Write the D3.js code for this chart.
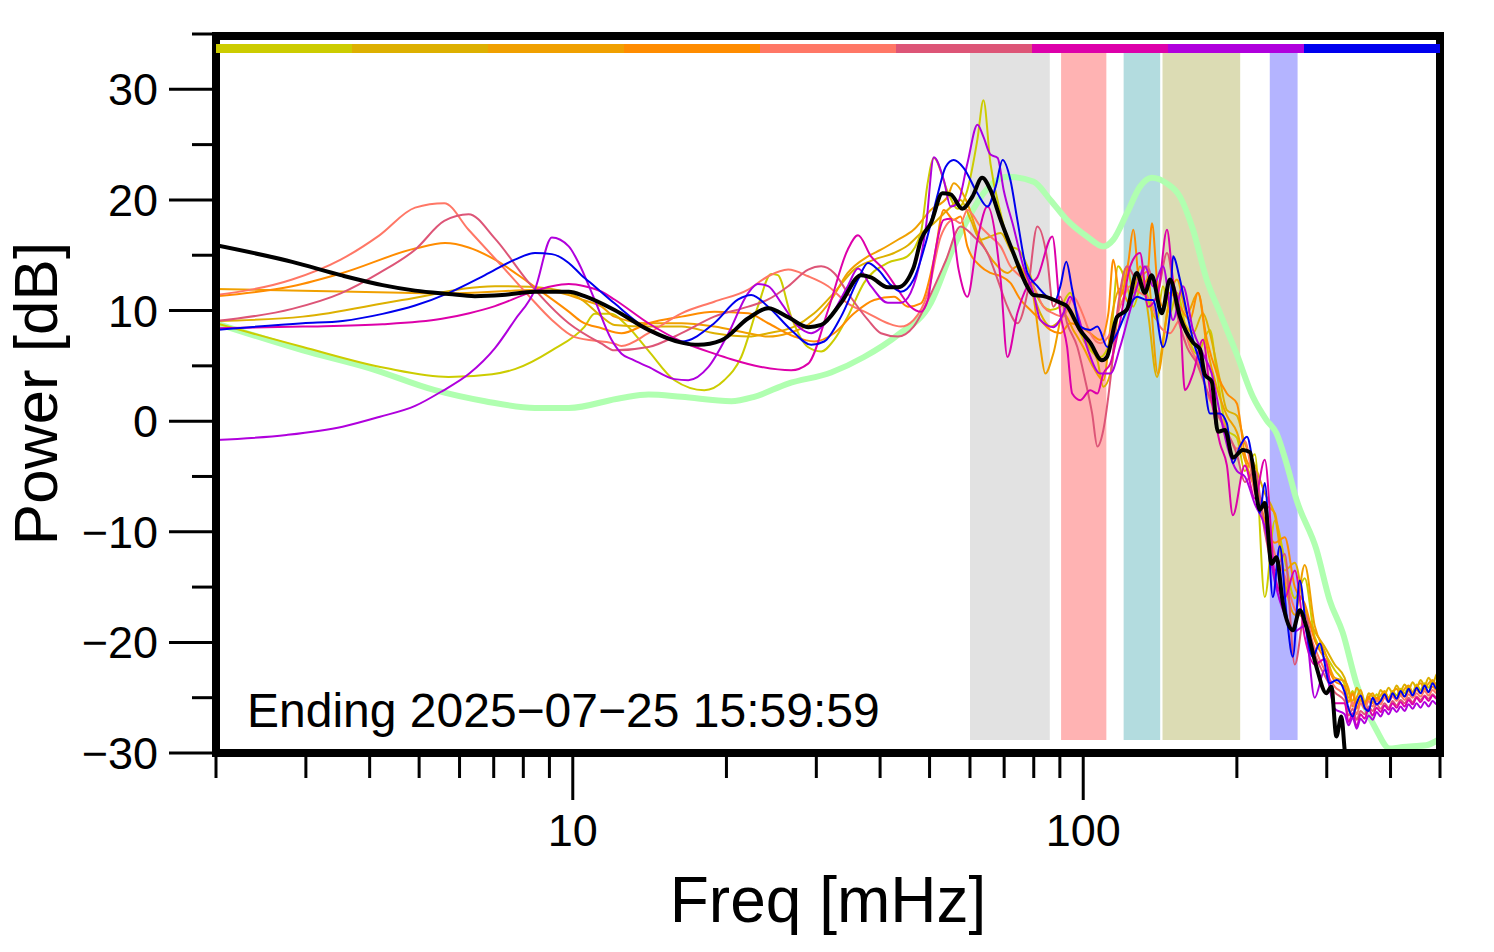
<!DOCTYPE html>
<html><head><meta charset="utf-8">
<script src="https://cdn.jsdelivr.net/npm/d3@7"></script>
<style>body{margin:0;background:#fff}svg{display:block}</style>
</head><body>
<svg id="chart" width="1494" height="952"></svg>
<script>
// ---------- data (freq in mHz, power in dB) ----------
const seriesNames = ["s1","s2","s3","s4","s5","s6","s7","s8","s9"];
const seriesColors = ["#CCCC00","#DDB000","#F0A000","#FF8C00","#FF7766","#DD5577","#DD00AA","#B000DD","#0000EE"];

const tailFreq = [325.2,331.1,337.2,343.3,349.5,355.9,362.4,369.0,375.7,382.5,389.5,396.6,403.8,411.1,418.6,426.2,434.0,441.9,449.9,458.1,466.4,474.9,483.6,492.4,500];

const headS1 = [[2.0,8.85],[2.96,6.7],[4.30,4.8],[5.71,4.0],[6.95,4.25],[7.70,4.7],[9.10,6.4],[10.55,8.55],[11.03,9.7],[11.91,9.7],[12.63,8.85],[14.05,6.4],[15.82,3.7],[18.1,2.8],[19.8,3.7],[21.38,5.8],[23.04,10.35],[24.47,13.3],[25.22,13.2],[26.78,9.45],[28.88,6.7],[30.66,6.3],[32.5,7.35],[34.56,9.45],[37.2,12.5],[41.38,14.3],[45.22,14.9],[48.1,17.1],[49.56,21.5],[50.98,23.8],[54.26,20.75],[56.73,19.2],[59.3,20.9],[62.06,25.5],[63.76,29.0],[65.8,23.3],[68.9,18.8],[72.0,15.8],[74.63,15.5],[77.74,14.0],[81.29,11.25],[86.2,10.05],[90.2,10.35],[94.3,11.6],[98.7,7.95],[103.2,6.45],[108,5.8],[113,7.35],[117,14.0],[121.9,12.2],[125.3,10.35],[131,12.8],[135.2,10.35],[139.5,9.15],[143.3,12.2],[147.9,9.75],[152.6,11.6],[159.7,7.95],[167,6.1],[177.1,8.25],[182.8,4.3],[191.2,-0.8],[200,-1.5],[207.3,-4.5],[216.9,-3.0],[226.8,-15.9],[237.3,-9.0],[248.2,-12.5],[259.7,-16.0],[271.6,-14.2],[284.1,-19.5],[297.2,-21.0],[310.9,-22.5]];
const tailS1 = [-23.8,-25.0,-24.4,-25.5,-24.9,-25.8,-25.1,-25.4,-24.7,-25.2,-24.5,-25.0,-24.4,-24.8,-24.2,-24.6,-24.0,-24.5,-23.8,-24.3,-23.7,-24.1,-23.5,-23.8,-23.2];

const headS2 = [[2.0,9.05],[2.96,9.45],[4.63,10.95],[7.04,12.2],[8.21,12.15],[9.82,11.6],[10.4,11.0],[11.39,9.45],[12.07,8.7],[14.07,8.55],[16.33,8.55],[18.93,7.95],[22.07,7.65],[24.14,7.95],[27.15,8.55],[29.72,9.75],[32.5,11.6],[35.58,13.7],[38.93,14.6],[42.6,15.2],[45.37,15.9],[48.1,17.0],[50.98,17.9],[54.26,19.1],[57.5,20.0],[60.2,18.2],[62.9,16.4],[65.8,16.7],[68.9,17.0],[72,15.5],[75.3,14.0],[78.8,12.2],[82.4,9.75],[86.2,8.55],[90.2,9.15],[93.0,10.05],[95.6,9.15],[101.7,7.05],[106.6,5.5],[109.5,3.1],[113,4.3],[117,9.75],[121.9,14.0],[125.3,11.6],[129.2,14.0],[134,9.75],[139.5,4.0],[143.3,7.35],[149.9,11.6],[156.8,9.15],[164.1,7.95],[171.6,9.75],[177.1,7.95],[185.3,3.7],[191.2,1.0],[200,0.5],[207.3,-2.0],[216.9,-4.0],[226.8,-6.5],[237.3,-8.5],[248.2,-13.5],[259.7,-12.8],[271.6,-17.0],[284.1,-19.0],[297.2,-20.4],[310.9,-22.0]];
const tailS2 = [-23.2,-24.5,-25.3,-24.1,-24.8,-25.6,-24.6,-24.9,-25.2,-24.3,-24.7,-24.1,-24.6,-23.9,-24.4,-23.8,-24.3,-23.6,-24.1,-23.4,-23.9,-23.2,-23.7,-22.9,-22.7];

const headS3 = [[2.0,11.95],[2.96,11.8],[4.63,11.6],[5.72,11.55],[8.43,11.85],[9.82,11.4],[10.4,11.0],[11.39,10.35],[12.07,9.45],[14.07,8.85],[16.33,8.85],[18.93,8.55],[22.07,7.95],[24.14,7.65],[26.42,7.95],[29.72,9.15],[32.07,10.95],[34.56,13.4],[37.87,14.9],[40.15,15.5],[43.34,16.4],[46.53,17.3],[50.3,19.1],[54.26,20.3],[55.75,21.5],[59.3,19.7],[62.06,17.0],[64.92,15.2],[67.98,14.0],[71.03,13.4],[74.29,14.0],[77.74,12.8],[79.87,11.25],[82.4,6.7],[84.27,4.3],[87.37,6.1],[91.43,9.75],[95.6,8.25],[100,6.7],[104.6,4.9],[109.5,3.7],[114,9.75],[118.1,12.0],[123.6,10.5],[129.2,12.8],[133.4,13.5],[140.1,4.3],[145.9,9.75],[152.6,12.8],[159.7,9.75],[167.8,11.6],[174.7,6.7],[182.8,3.0],[191.2,0.5],[200,-1.0],[207.3,-3.5],[216.9,-6.0],[226.8,-7.5],[237.3,-8.3],[248.2,-14.5],[259.7,-17.5],[271.6,-13.0],[284.1,-18.5],[297.2,-20.8],[310.9,-23.2]];
const tailS3 = [-23.5,-24.2,-25.8,-25.0,-24.3,-25.4,-25.0,-24.6,-25.3,-24.8,-24.4,-25.1,-24.5,-24.2,-24.8,-24.2,-23.9,-24.5,-24.0,-23.7,-24.2,-23.7,-23.4,-23.9,-23.3];

const headS4 = [[2.0,11.3],[2.82,12.2],[3.54,13.4],[4.91,15.6],[5.62,16.1],[6.25,15.7],[7.04,14.6],[8.21,12.5],[9.82,9.9],[10.4,9.0],[11.39,8.4],[12.46,7.95],[14.07,8.85],[16.33,9.45],[18.93,9.9],[22.07,9.75],[24.14,8.85],[27.15,7.65],[29.72,7.2],[32.5,7.95],[35.58,9.75],[38.93,10.95],[42.6,11.25],[45.37,10.35],[48.1,10.65],[50.98,14.6],[53.31,19.1],[55.75,18.2],[57.5,18.5],[59.3,15.8],[62.9,14.0],[65.8,13.4],[68.9,13.1],[72,12.5],[75.3,11.0],[78.8,10.05],[82.4,9.15],[86.2,8.25],[90.2,7.95],[94.3,8.85],[98.7,8.55],[103.2,7.95],[108,7.35],[112,9.75],[114.5,14.6],[118.1,11.25],[122.5,14.3],[125.3,17.3],[129.2,12.2],[133.4,12.8],[136.4,17.9],[139.5,12.8],[143.3,10.35],[147.9,11.6],[154.7,10.35],[161.9,9.15],[167.8,11.6],[174.7,7.35],[182.8,4.3],[191.2,2.5],[200,1.6],[207.3,-3.0],[216.9,-5.0],[226.8,-9.0],[237.3,-11.0],[248.2,-10.5],[259.7,-15.0],[271.6,-16.5],[284.1,-19.8],[297.2,-21.5],[310.9,-23.5]];
const tailS4 = [-24.0,-25.4,-24.6,-26.0,-25.2,-25.6,-24.9,-25.5,-25.0,-25.3,-24.8,-25.2,-24.7,-25.1,-24.6,-24.9,-24.4,-24.8,-24.3,-24.6,-24.2,-24.5,-24.0,-24.3,-23.9];

const headS5 = [[2.0,11.4],[2.82,12.8],[3.51,14.6],[4.18,16.8],[4.91,19.3],[5.6,19.7],[6.25,17.3],[7.27,14.0],[8.21,11.3],[9.10,9.15],[10.09,7.6],[12.07,7.0],[12.46,6.8],[14.07,7.95],[16.33,9.75],[18.93,10.8],[22.07,11.9],[24.14,13.1],[26.42,13.7],[28.92,13.1],[31.64,12.2],[34.56,10.65],[37.87,9.75],[41.43,8.85],[43.93,8.55],[46.53,9.15],[49.63,11.6],[52.6,16.7],[55.75,18.2],[57.5,17.9],[59.3,19.1],[62.9,17.6],[65.8,16.7],[68.9,15.8],[72,14.0],[75.3,13.1],[79.87,12.2],[83.52,10.35],[87.37,9.75],[91.43,9.45],[95.6,11.25],[99.6,9.75],[103.2,7.95],[108,7.05],[113,7.95],[118.1,10.35],[123.6,12.2],[129.2,11.6],[135.2,10.95],[141.4,8.55],[147.9,7.95],[154.7,9.15],[161.9,6.7],[169.3,4.9],[177.1,1.9],[185.3,0.5],[193.8,-1.5],[200,-2.5],[207.3,-1.8],[216.9,-6.5],[226.8,-8.0],[237.3,-12.0],[248.2,-14.0],[259.7,-17.0],[271.6,-18.0],[284.1,-20.5],[297.2,-22.5],[310.9,-24.0]];
const tailS5 = [-24.8,-26.2,-25.4,-26.5,-25.5,-26.0,-25.3,-25.8,-25.2,-25.6,-25.0,-25.4,-24.9,-25.3,-24.8,-25.2,-24.7,-25.0,-24.6,-24.9,-24.4,-24.8,-24.3,-24.6,-24.3];

const headS6 = [[2.0,9.05],[2.82,10.15],[3.51,11.55],[4.18,13.4],[4.91,15.5],[5.6,18.1],[6.25,18.7],[7.04,16.5],[8.21,12.5],[9.82,8.85],[11.39,7.0],[12.07,6.4],[14.07,6.7],[16.33,7.95],[18.93,9.45],[22.07,10.35],[24.14,11.0],[26.42,12.2],[28.92,13.7],[30.66,14.0],[32.5,13.4],[34.56,11.6],[37.87,9.15],[40.15,7.95],[43.34,7.65],[46.53,8.55],[50.3,11.5],[53.78,14.5],[57.5,17.6],[61.02,16.7],[64.92,15.2],[67.98,12.8],[71.03,10.35],[74.29,8.85],[77.74,11.6],[81.29,17.6],[85.04,14.6],[87.37,10.35],[90.2,11.25],[93.0,8.85],[97.38,6.7],[100.9,3.7],[104.1,0.7],[106.6,-2.3],[109.5,-0.8],[113,3.7],[116.5,9.75],[121.9,14.0],[127.5,12.8],[133.4,14.0],[139.5,11.6],[145.9,15.2],[152.6,9.75],[159.7,6.7],[167,5.2],[174.7,2.8],[182.8,0.7],[191.2,-1.0],[200,-3.0],[207.3,-5.5],[216.9,-4.5],[226.8,-10.0],[237.3,-13.5],[248.2,-12.0],[259.7,-22.0],[271.6,-17.5],[284.1,-21.0],[297.2,-23.0],[310.9,-24.5]];
const tailS6 = [-25.3,-26.6,-26.0,-27.0,-26.2,-26.5,-25.8,-26.2,-25.6,-26.0,-25.5,-25.9,-25.3,-25.7,-25.2,-25.5,-25.0,-25.4,-24.9,-25.2,-24.8,-25.1,-24.7,-25.0,-24.7];

const headS7 = [[2.0,8.4],[2.96,8.55],[4.24,8.76],[5.54,9.25],[6.27,9.76],[7.04,10.4],[8.22,11.6],[9.10,12.2],[9.82,12.4],[10.55,12.2],[11.39,11.7],[12.07,11.0],[14.07,8.85],[16.33,7.2],[18.93,6.1],[20.44,5.6],[23.39,4.9],[26.78,4.6],[28.92,5.2],[31.64,10.05],[34.56,15.5],[36.21,16.8],[38.39,14.9],[40.7,13.7],[43.34,11.9],[45.9,10.35],[48.1,9.9],[49.63,11.0],[50.98,14.6],[53.31,18.2],[55.0,18.3],[57.0,13.7],[59.3,11.25],[62.06,16.4],[64.92,19.4],[68.9,12.8],[71.03,5.8],[74.29,9.75],[77.74,12.2],[81.29,13.0],[87.0,16.7],[90.2,9.75],[93.0,6.7],[95.15,2.5],[98.7,1.9],[103.2,2.8],[106.6,2.5],[109.5,4.3],[113,5.2],[118.1,9.0],[123.6,14.0],[129.2,15.2],[134,10.35],[140.1,11.6],[145.9,17.3],[149.9,12.8],[154.7,9.75],[158.2,2.8],[164.1,4.3],[171.6,7.35],[177.1,2.8],[185.3,-2.0],[191.2,-4.0],[196.4,-8.5],[207.3,-4.0],[216.9,-7.0],[226.8,-3.5],[237.3,-14.0],[248.2,-16.0],[259.7,-13.5],[271.6,-19.5],[284.1,-22.0],[297.2,-21.5],[310.9,-25.5]];
const tailS7 = [-25.5,-27.2,-26.4,-27.6,-26.5,-26.9,-26.0,-26.6,-25.9,-26.3,-25.7,-26.1,-25.5,-25.9,-25.4,-25.8,-25.2,-25.6,-25.0,-25.4,-24.9,-25.3,-24.8,-25.1,-24.8];

const headS8 = [[2.0,-1.7],[2.75,-1.25],[3.54,-0.5],[4.19,0.4],[4.91,1.38],[5.54,2.7],[6.27,4.3],[7.04,6.6],[7.70,9.15],[8.43,11.9],[9.10,16.6],[9.82,15.8],[10.27,14.3],[11.03,11.0],[11.91,7.35],[12.46,6.1],[13.04,5.6],[14.07,4.9],[15.82,3.8],[16.84,3.7],[18.44,4.9],[20.18,7.95],[22.07,11.6],[23.04,12.4],[24.14,12.2],[25.6,10.7],[27.65,8.55],[29.31,7.95],[31.64,9.15],[34.56,12.2],[36.21,13.8],[38.39,12.2],[41.43,10.7],[43.93,10.7],[45.9,11.6],[49.2,17.6],[50.98,23.85],[53.31,21.8],[55.0,19.4],[56.73,19.7],[59.3,23.3],[62.06,26.8],[63.76,25.7],[65.8,24.1],[67.98,23.8],[69.84,20.9],[72.98,17.6],[76.32,14.0],[79.87,11.6],[82.4,9.15],[87.37,8.5],[91.43,9.75],[94.3,11.25],[97.38,9.75],[101.7,6.7],[108,4.3],[113,4.3],[118.1,6.7],[123.6,10.05],[127.5,12.2],[132.1,14.0],[137.0,12.2],[143.3,14.0],[149.9,9.15],[156.8,12.2],[164.1,8.25],[171.6,6.1],[178.5,4.3],[185.3,0.7],[192.1,-2.5],[200,-4.5],[207.3,-5.0],[216.9,-7.5],[226.8,-9.5],[237.3,-14.5],[248.2,-17.5],[259.7,-19.0],[271.6,-18.5],[284.1,-25.0],[297.2,-22.5],[310.9,-26.0]];
const tailS8 = [-26.5,-27.5,-26.8,-27.8,-26.9,-27.3,-26.6,-27.0,-26.3,-26.7,-26.1,-26.5,-25.9,-26.3,-25.8,-26.2,-25.6,-26.0,-25.5,-25.9,-25.4,-25.8,-25.3,-25.6,-25.3];

const headS9 = [[2.0,8.25],[2.96,8.85],[3.54,9.06],[4.24,9.7],[4.91,10.45],[5.72,11.6],[6.73,13.2],[7.70,14.6],[8.43,15.2],[9.10,15.1],[9.82,14.3],[10.4,13.2],[11.03,12.2],[12.07,10.65],[14.07,8.25],[16.33,7.2],[18.93,8.85],[21.09,11.0],[22.37,11.4],[24.14,10.35],[26.78,8.25],[29.31,6.9],[31.08,7.2],[33.54,9.45],[36.21,12.8],[37.87,14.3],[39.61,13.7],[42.0,12.3],[43.93,11.7],[46.53,12.8],[49.2,16.2],[52.0,20.7],[53.78,23.0],[55.75,23.6],[58.28,22.9],[62.06,20.6],[64.92,19.4],[67.37,21.2],[69.52,23.6],[72,21.8],[74.29,18.2],[77.74,13.4],[81.29,12.2],[85.04,11.25],[88.16,10.95],[90.2,12.2],[92.63,14.4],[95.15,11.9],[98.7,8.55],[103.2,8.25],[106.6,8.55],[111.5,6.7],[116.5,7.95],[121.9,10.05],[127.5,11.25],[133.4,10.95],[137.0,10.95],[143.3,6.7],[147.9,9.75],[149.9,14.9],[154.7,12.8],[159.7,9.75],[164.1,7.35],[171.6,4.3],[177.1,0.7],[185.3,0.7],[191.2,-0.2],[196.4,-3.8],[202.7,-2.3],[209.3,-1.4],[215,-3.8],[221.8,-8.3],[226.8,-5.6],[235.2,-15.9],[242.7,-11.3],[250.5,-17.7],[257.4,-21.3],[265.6,-14.4],[274.1,-19.2],[281.6,-21.3],[290.6,-20.1],[304,-23.7],[313.7,-23.4]];
const tailS9 = [-24.5,-26.0,-26.7,-25.5,-24.8,-25.9,-26.2,-25.0,-25.6,-25.3,-24.7,-25.4,-24.6,-25.1,-24.4,-24.9,-24.2,-24.8,-24.1,-24.6,-23.9,-24.5,-23.7,-24.2,-23.6];

const meanSeries = [[2.0,15.9],[2.82,14.4],[3.51,13.2],[4.24,12.3],[4.91,11.8],[5.72,11.5],[6.43,11.3],[7.27,11.4],[8.43,11.7],[9.82,11.7],[10.55,11.3],[12.07,10.05],[14.07,8.25],[16.33,7.1],[17.62,6.9],[19.54,7.3],[22.07,9.3],[24.14,10.2],[26.42,9.4],[28.92,8.5],[30.66,8.7],[33.54,10.7],[36.70,13.2],[38.39,13.0],[41.43,12.1],[43.34,12.1],[46.53,13.9],[48.1,16.4],[50.3,17.9],[53.0,20.6],[55.0,20.5],[57.94,19.2],[60.66,20.3],[63.38,22.0],[65.8,20.9],[68.9,18.2],[72.98,15.2],[77.64,12.2],[79.87,11.4],[83.52,11.3],[90.2,10.7],[92.9,10.4],[98.7,8.2],[103.2,7.1],[108.8,5.5],[111.3,5.8],[116.4,9.4],[121.8,10.1],[127.3,13.4],[132.1,11.6],[136.2,13.2],[142.5,9.75],[147.9,12.8],[154.7,9.45],[164.1,7.1],[169.3,6.5],[173.1,4.2],[178.5,3.6],[183.6,-0.95],[189.5,-0.8],[196.4,-3.3],[205.5,-2.6],[212.1,-2.8],[221.8,-8.0],[226.8,-7.4],[233.8,-12.9],[239.1,-12.3],[246.0,-16.4],[257.4,-18.9],[265.6,-17.1],[273.7,-18.6],[286.3,-22.2],[299.5,-24.6],[306.3,-24.0],[313.3,-28.5],[320.4,-26.7],[325.2,-29.7],[332,-34]];

const referenceSeries = [[2.0,8.85],[2.96,6.4],[3.99,4.8],[5.37,2.8],[6.73,1.8],[8.43,1.2],[9.82,1.2],[12.46,2.1],[14.07,2.4],[16.33,2.2],[20.44,1.8],[22.67,2.2],[26.42,3.4],[32.07,4.4],[37.2,5.8],[43.34,7.8],[50.3,10.7],[55.75,15.75],[59.31,18.2],[63.76,20.6],[70.94,22.1],[79.87,21.65],[86.2,20.0],[92.9,18.2],[101.7,16.7],[109.5,15.8],[114.5,16.4],[121.8,18.8],[129.2,21.2],[136.2,22.0],[145.7,21.5],[154.7,20.3],[164.1,17.3],[174.5,12.8],[185.3,9.8],[199.7,6.1],[215,2.2],[228.6,0.1],[239.1,-1.1],[250.1,-3.8],[261.7,-7.1],[286.3,-11.6],[304,-16.2],[322.3,-19.1],[342.9,-23.7],[375.1,-27.9],[398.3,-29.6],[416.6,-29.5],[435.8,-29.4],[469.9,-29.3],[500,-28.7]];

const bandRanges = [[60,86],[90.5,111],[120,141.5],[143,203],[232,263]];
const bandColors = ["#E2E2E2","#FFB3B3","#B3DCDF","#DCDCB4","#B4B4FF"];

const yTickValues = [-30,-25,-20,-15,-10,-5,0,5,10,15,20,25,30,35];
const yTickLabels = {"-30":"\u221230","-20":"\u221220","-10":"\u221210","0":"0","10":"10","20":"20","30":"30"};
const xTickValues = [2,3,4,5,6,7,8,9,10,20,30,40,50,60,70,80,90,100,200,300,400,500];
const xTickLabels = {"10":"10","100":"100"};
const xTitle = "Freq [mHz]";
const yTitle = "Power [dB]";
const footnote = "Ending 2025\u221207\u221225 15:59:59";

// ---------- drawing ----------
const FONT = "'Liberation Sans', Arial, Helvetica, sans-serif";
const L = 216, R = 1440, T = 36, B = 753;
const svg = d3.select("#chart");
const x = d3.scaleLog().domain([2, 500]).range([L, R]);
const y = d3.scaleLinear().domain([-30, 35]).range([753, 34]);

const heads = [headS1,headS2,headS3,headS4,headS5,headS6,headS7,headS8,headS9];
const tails = [tailS1,tailS2,tailS3,tailS4,tailS5,tailS6,tailS7,tailS8,tailS9];
const series = seriesNames.map((n, i) => ({
  name: n, color: seriesColors[i],
  points: heads[i].concat(tailFreq.map((f, j) => [f, tails[i][j]]))
}));

svg.append("defs").append("clipPath").attr("id", "plotclip")
  .append("rect").attr("x", L).attr("y", T).attr("width", R - L).attr("height", B - T);

// bands
svg.append("g").selectAll("rect").data(bandRanges).join("rect")
  .attr("x", d => x(d[0])).attr("width", d => x(d[1]) - x(d[0]))
  .attr("y", 53).attr("height", 740 - 53)
  .attr("fill", (d, i) => bandColors[i]);

const line = d3.line().x(d => x(d[0])).y(d => y(d[1])).curve(d3.curveMonotoneX);
const plot = svg.append("g").attr("clip-path", "url(#plotclip)");

plot.append("path").datum(referenceSeries).attr("d", line)
  .attr("fill", "none").attr("stroke", "#B0FFB0").attr("stroke-width", 6)
  .attr("stroke-linejoin", "round");

plot.selectAll("path.s").data(series).join("path").attr("class", "s")
  .attr("d", d => line(d.points)).attr("fill", "none")
  .attr("stroke", d => d.color).attr("stroke-width", 2).attr("stroke-linejoin", "round");

plot.append("path").datum(meanSeries).attr("d", line)
  .attr("fill", "none").attr("stroke", "#000").attr("stroke-width", 4)
  .attr("stroke-linejoin", "round");

// frame
svg.append("rect").attr("x", L).attr("y", T).attr("width", R - L).attr("height", B - T)
  .attr("fill", "none").attr("stroke", "#000").attr("stroke-width", 8);

// colour bar
const band = d3.scaleBand().domain(seriesNames).range([L, R]);
svg.append("g").selectAll("rect").data(series).join("rect")
  .attr("x", d => band(d.name)).attr("width", band.bandwidth())
  .attr("y", 44).attr("height", 9).attr("fill", d => d.color);

// y ticks
const yt = svg.append("g");
yTickValues.forEach(v => {
  const major = v % 10 === 0;
  yt.append("line").attr("x1", major ? 169 : 192).attr("x2", 213)
    .attr("y1", y(v)).attr("y2", y(v)).attr("stroke", "#000").attr("stroke-width", 3);
  if (yTickLabels[v] !== undefined) {
    yt.append("text").attr("x", 158).attr("y", y(v) + 16).attr("text-anchor", "end")
      .attr("font-family", FONT).attr("font-size", 45).text(yTickLabels[v]);
  }
});
// x ticks
const xt = svg.append("g");
xTickValues.forEach(v => {
  const major = xTickLabels[v] !== undefined;
  xt.append("line").attr("x1", x(v)).attr("x2", x(v)).attr("y1", 757).attr("y2", major ? 800 : 778)
    .attr("stroke", "#000").attr("stroke-width", 3);
  if (major) {
    xt.append("text").attr("x", x(v)).attr("y", 846).attr("text-anchor", "middle")
      .attr("font-family", FONT).attr("font-size", 45).text(xTickLabels[v]);
  }
});

svg.append("text").attr("x", (L + R) / 2).attr("y", 922).attr("text-anchor", "middle")
  .attr("font-family", FONT).attr("font-size", 64).text(xTitle);
svg.append("text").attr("transform", `translate(57,${(34 + 753) / 2}) rotate(-90)`)
  .attr("text-anchor", "middle").attr("font-family", FONT).attr("font-size", 62).text(yTitle);
svg.append("text").attr("x", 247).attr("y", 727)
  .attr("font-family", FONT).attr("font-size", 48).text(footnote);
</script>
</body></html>
